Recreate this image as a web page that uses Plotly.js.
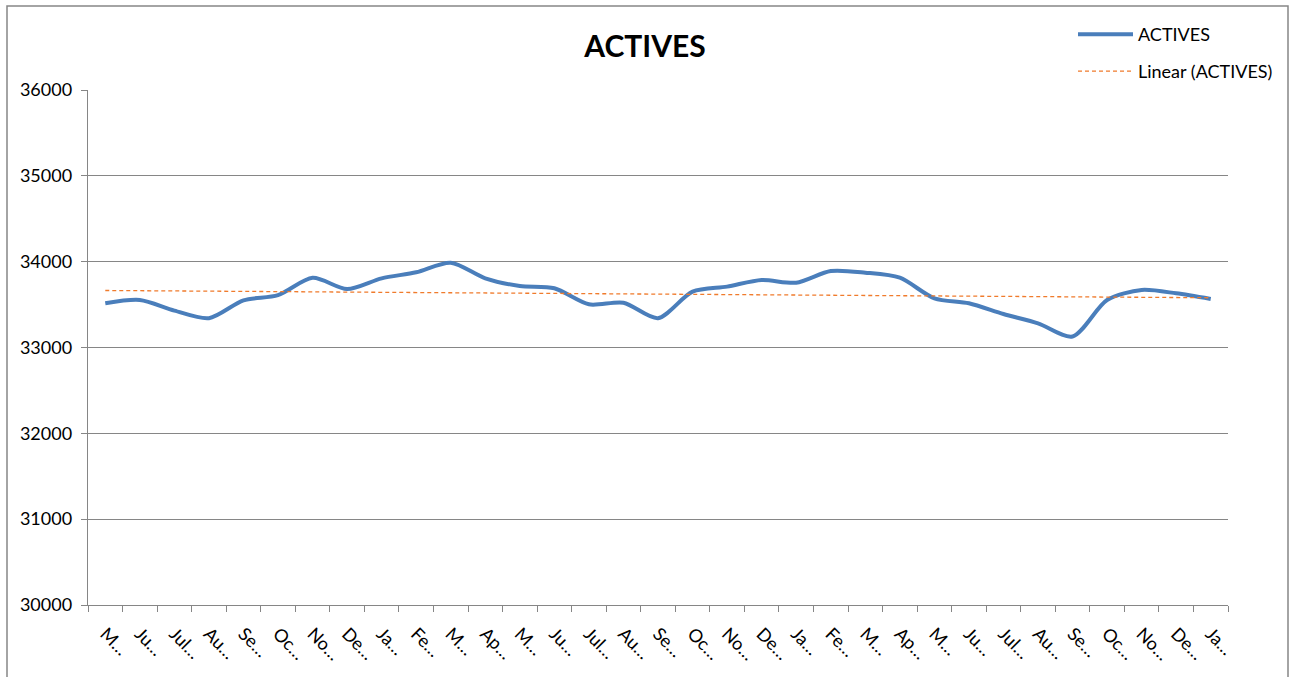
<!DOCTYPE html>
<html>
<head>
<meta charset="utf-8">
<script src="https://cdn.plot.ly/plotly-3.0.1.min.js"></script>
<style>html,body{margin:0;padding:0;background:#fff;}#chart{width:1292px;height:677px;}</style>
</head>
<body>
<div id="chart"></div>
<script>
// Category tick labels (as shown, truncated)
const categories = ["M…","Ju…","Jul…","Au…","Se…","Oc…","No…","De…","Ja…","Fe…","M…","Ap…","M…","Ju…","Jul…","Au…","Se…","Oc…","No…","De…","Ja…","Fe…","M…","Ap…","M…","Ju…","Jul…","Au…","Se…","Oc…","No…","De…","Ja…"];
// ACTIVES series values
const actives = [33515,33553,33430,33342,33550,33610,33812,33681,33806,33876,33988,33806,33716,33690,33503,33522,33342,33650,33709,33786,33755,33891,33872,33813,33573,33515,33390,33281,33128,33553,33670,33631,33565];
const yTickVals = [30000,31000,32000,33000,34000,35000,36000];

const idx = actives.map((_, i) => i);
// Linear trendline (least squares) computed from the series
const n = actives.length;
const mx = idx.reduce((a,b)=>a+b,0)/n;
const my = actives.reduce((a,b)=>a+b,0)/n;
let sxy = 0, sxx = 0;
for (let i = 0; i < n; i++) { sxy += (idx[i]-mx)*(actives[i]-my); sxx += (idx[i]-mx)*(idx[i]-mx); }
const slope = sxy/sxx, intercept = my - slope*mx;
const trend = idx.map(i => intercept + slope*i);

const FONT = 'Lato, "Open Sans", "Liberation Sans", sans-serif';
const GRAY = '#868686';

const traces = [
  {x: idx, y: actives, type: 'scatter', mode: 'lines', name: 'ACTIVES',
   line: {color: '#4A7EBB', width: 4, shape: 'spline', smoothing: 0.8}, legend: 'legend'},
  {x: idx, y: trend, type: 'scatter', mode: 'lines', name: 'Linear (ACTIVES)',
   line: {color: '#F07B2C', width: 1.3, dash: '4px,3px'}, legend: 'legend2'}
];

const L = 88, R = 1228, T = 90, B = 605;
const px = v => (v - L) / (R - L);
const py = v => (B - v) / (B - T);

const layout = {
  width: 1292, height: 677,
  margin: {l: L, r: 1292 - R, t: T, b: 677 - B, pad: 0},
  paper_bgcolor: '#ffffff', plot_bgcolor: '#ffffff',
  font: {family: FONT, size: 17, color: '#000000'},
  title: {text: '<b>ACTIVES</b>', font: {family: FONT, size: 30, color: '#000'},
          xref: 'paper', x: px(645), xanchor: 'center', yref: 'container', y: 1 - 46/677, yanchor: 'middle'},
  xaxis: {
    range: [-0.5, n - 0.5], tickmode: 'array', tickvals: idx, ticktext: categories,
    tickangle: 45, ticks: '', showgrid: false, zeroline: false,
    showline: true, linecolor: GRAY, linewidth: 1.3, ticklabelstandoff: 10,
    tickfont: {family: FONT, size: 18, color: '#000'},
    minor: {tickmode: 'linear', tick0: -0.5, dtick: 1, ticks: 'outside', ticklen: 6, tickcolor: GRAY, tickwidth: 1, showgrid: false}
  },
  yaxis: {
    range: [30000, 36000], tickmode: 'array', tickvals: yTickVals, tickformat: 'd',
    ticks: 'outside', ticklen: 6, tickcolor: GRAY, tickwidth: 1,
    showgrid: true, gridcolor: GRAY, gridwidth: 1, zeroline: false,
    showline: true, linecolor: GRAY, linewidth: 1.3, ticklabelstandoff: 5,
    tickfont: {family: FONT, size: 18, color: '#000'}
  },
  showlegend: true,
  legend: {x: px(1073), xanchor: 'left', y: py(16), yanchor: 'top', bgcolor: 'rgba(0,0,0,0)',
           font: {family: FONT, size: 18, color: '#000'}, itemwidth: 55},
  legend2: {x: px(1073), xanchor: 'left', y: py(53), yanchor: 'top', bgcolor: 'rgba(0,0,0,0)',
           font: {family: FONT, size: 18, color: '#000'}, itemwidth: 55},
  shapes: [
    {type: 'rect', xref: 'paper', yref: 'paper', x0: px(7), x1: px(1288), y0: py(700), y1: py(6),
     line: {color: GRAY, width: 1.5}, fillcolor: 'rgba(0,0,0,0)', layer: 'below'}
  ]
};

Plotly.newPlot('chart', traces, layout, {displayModeBar: false, staticPlot: true});
</script>
</body>
</html>
